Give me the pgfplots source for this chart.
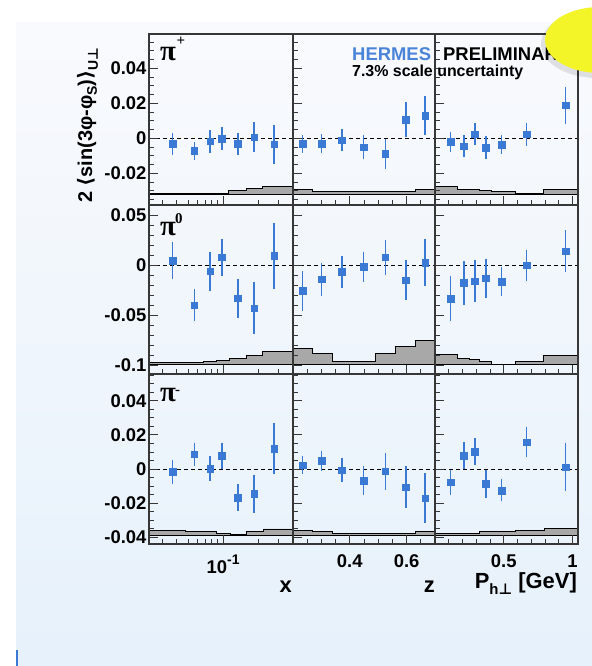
\documentclass[border=0pt]{standalone}
\usepackage{fontspec}
\setmainfont{Liberation Sans}
\newfontfamily\djv{DejaVu Sans}
\newfontfamily\lser{Liberation Serif}
\usepackage{pgfplots}
\pgfplotsset{compat=1.18}
\definecolor{hblue}{RGB}{58,122,212}
\definecolor{hblue2}{RGB}{74,132,216}
\definecolor{bandgray}{RGB}{168,168,168}
\definecolor{framec}{RGB}{55,55,55}
\definecolor{bgtop}{RGB}{249,250,253}
\definecolor{bgbot}{RGB}{230,241,251}
\definecolor{blob}{RGB}{243,245,40}

\pgfplotsset{
  panel/.style={
    scale only axis, axis on top,
    scaled x ticks=false, scaled y ticks=false,
    axis line style={draw=framec, line width=1.1bp},
    tick align=inside,
    xtick pos=left, ytick pos=left,
    major tick length=9bp, minor tick length=5bp,
    tick style={draw=framec, line width=0.9bp},
    tick label style={font=\bfseries\fontsize{18.5}{18.5}\selectfont},
    xticklabel style={yshift=-7bp},
    yticklabel style={xshift=1bp},
    /pgf/number format/assume math mode=true,
    xticklabels={}, yticklabels={},
    anchor=north west,
  },
  rowtop/.style={ymin=-0.0381, ymax=0.0596, height=171bp,
    ytick={-0.02,0,0.02,0.04},
    minor ytick={-0.035,-0.03,-0.025,-0.015,-0.01,-0.005,0.005,0.01,0.015,0.025,0.03,0.035,0.045,0.05,0.055}},
  rowtoplab/.style={yticklabels={-0.02,0,0.02,0.04}},
  rowmid/.style={ymin=-0.109, ymax=0.06, height=169bp,
    ytick={-0.1,-0.05,0,0.05},
    minor ytick={-0.09,-0.08,-0.07,-0.06,-0.04,-0.03,-0.02,-0.01,0.01,0.02,0.03,0.04}},
  rowmidlab/.style={yticklabels={-0.1,-0.05,0,0.05}},
  rowbot/.style={ymin=-0.0439, ymax=0.0557, height=170bp,
    ytick={-0.04,-0.02,0,0.02,0.04},
    minor ytick={-0.035,-0.03,-0.025,-0.015,-0.01,-0.005,0.005,0.01,0.015,0.025,0.03,0.035,0.045,0.05,0.055}},
  rowbotlab/.style={yticklabels={-0.04,-0.02,0,0.02,0.04}},
  colx/.style={xmin=0.023, xmax=0.4, width=144bp,
    xtick={0.1}, minor xtick={0.03,0.04,0.05,0.06,0.07,0.08,0.09,0.2,0.3}},
  colz/.style={xmin=0.2, xmax=0.7, width=142bp,
    xtick={0.4,0.6}, minor xtick={0.25,0.3,0.35,0.45,0.5,0.55,0.65}},
  colp/.style={xmin=0, xmax=1.04, width=143bp,
    xtick={0.5,1}, minor xtick={0.1,0.2,0.3,0.4,0.6,0.7,0.8,0.9}},
  datapts/.style={hblue, only marks, mark=square*, mark size=3.3bp,
    mark options={fill=hblue, draw=hblue, line width=0.3bp},
    error bars/.cd, y dir=both, y explicit, error mark=none,
    error bar style={line width=1.5bp, hblue}},
  band/.style={fill=bandgray, draw=black, line width=0.9bp},
  zeroline/.style={black, dash pattern=on 4bp off 3bp, line width=0.9bp},
}

\begin{document}
\begin{tikzpicture}
\useasboundingbox (0,0) rectangle (592bp,-666bp);
\fill[white] (0,0) rectangle (592bp,-666bp);
\shade[top color=bgtop, bottom color=bgbot] (16bp,-22bp) rectangle (592bp,-666bp);
\fill[hblue] (16bp,-650bp) rectangle (18bp,-666bp);

% ---------------- top row: pi+ ----------------
\begin{semilogxaxis}[panel, rowtop, rowtoplab, colx, at={(149bp,-34bp)}]
\addplot[band] coordinates {(0.023,-0.0322) (0.023,-0.0317) (0.111,-0.0317) (0.111,-0.0297) (0.158,-0.0297) (0.158,-0.0288) (0.22,-0.0288) (0.22,-0.0273) (0.4,-0.0273) (0.4,-0.0322)} -- cycle;
\addplot[zeroline] coordinates {(0.023,0) (0.4,0)};
\addplot[datapts] coordinates {
(0.0366,-0.0032) +- (0,0.0062)
(0.0565,-0.0072) +- (0,0.0052)
(0.0773,-0.0017) +- (0,0.0065)
(0.0975,-0.0002) +- (0,0.0067)
(0.134,-0.0032) +- (0,0.0063)
(0.185,0.0006) +- (0,0.0087)
(0.275,-0.0034) +- (0,0.0112)};
\end{semilogxaxis}
\begin{axis}[panel, rowtop, colz, at={(293bp,-34bp)}]
\addplot[band] coordinates {(0.2,-0.0322) (0.2,-0.0295) (0.268,-0.0295) (0.268,-0.0305) (0.63,-0.0305) (0.63,-0.0295) (0.7,-0.0295) (0.7,-0.0322)} -- cycle;
\addplot[zeroline] coordinates {(0.2,0) (0.7,0)};
\addplot[datapts] coordinates {
(0.233,-0.0032) +- (0,0.0050)
(0.301,-0.0029) +- (0,0.0054)
(0.372,-0.0010) +- (0,0.0062)
(0.448,-0.0050) +- (0,0.0070)
(0.525,-0.0088) +- (0,0.0086)
(0.597,0.0105) +- (0,0.0100)
(0.665,0.0130) +- (0,0.0110)};
\end{axis}
\begin{axis}[panel, rowtop, colp, at={(435bp,-34bp)}]
\addplot[band] coordinates {(0,-0.0322) (0,-0.0273) (0.166,-0.0273) (0.166,-0.0292) (0.326,-0.0292) (0.326,-0.0299) (0.412,-0.0299) (0.412,-0.0305) (0.583,-0.0305) (0.583,-0.0317) (0.791,-0.0317) (0.791,-0.0292) (1.04,-0.0292) (1.04,-0.0322)} -- cycle;
\addplot[zeroline] coordinates {(0,0) (1.04,0)};
\addplot[datapts] coordinates {
(0.114,-0.0019) +- (0,0.0057)
(0.21,-0.0044) +- (0,0.0065)
(0.29,0.0023) +- (0,0.0064)
(0.37,-0.0053) +- (0,0.0065)
(0.485,-0.0036) +- (0,0.0054)
(0.667,0.0023) +- (0,0.0065)
(0.95,0.0189) +- (0,0.0105)};
\end{axis}

% ---------------- middle row: pi0 ----------------
\begin{semilogxaxis}[panel, rowmid, rowmidlab, colx, at={(149bp,-205bp)}]
\addplot[band] coordinates {(0.023,-0.0995) (0.023,-0.0975) (0.0676,-0.0975) (0.0676,-0.0965) (0.087,-0.0965) (0.087,-0.095) (0.113,-0.095) (0.113,-0.0935) (0.16,-0.0935) (0.16,-0.0905) (0.22,-0.0905) (0.22,-0.086) (0.4,-0.086) (0.4,-0.0995)} -- cycle;
\addplot[zeroline] coordinates {(0.023,0) (0.4,0)};
\addplot[datapts] coordinates {
(0.0366,0.0043) +- (0,0.0183)
(0.0565,-0.0403) +- (0,0.0160)
(0.0773,-0.0063) +- (0,0.0195)
(0.0975,0.0077) +- (0,0.0187)
(0.134,-0.0333) +- (0,0.0195)
(0.185,-0.0433) +- (0,0.0260)
(0.275,0.0093) +- (0,0.0330)};
\end{semilogxaxis}
\begin{axis}[panel, rowmid, colz, at={(293bp,-205bp)}]
\addplot[band] coordinates {(0.2,-0.0995) (0.2,-0.0833) (0.268,-0.0833) (0.268,-0.0885) (0.34,-0.0885) (0.34,-0.0962) (0.489,-0.0962) (0.489,-0.0885) (0.56,-0.0885) (0.56,-0.0817) (0.63,-0.0817) (0.63,-0.0757) (0.7,-0.0757) (0.7,-0.0995)} -- cycle;
\addplot[zeroline] coordinates {(0.2,0) (0.7,0)};
\addplot[datapts] coordinates {
(0.233,-0.0257) +- (0,0.0202)
(0.301,-0.0143) +- (0,0.0167)
(0.372,-0.0067) +- (0,0.0158)
(0.448,-0.0017) +- (0,0.0150)
(0.525,0.0077) +- (0,0.0172)
(0.597,-0.0153) +- (0,0.0200)
(0.665,0.0023) +- (0,0.0233)};
\end{axis}
\begin{axis}[panel, rowmid, colp, at={(435bp,-205bp)}]
\addplot[band] coordinates {(0,-0.0995) (0,-0.0898) (0.166,-0.0898) (0.166,-0.0932) (0.252,-0.0932) (0.252,-0.0948) (0.326,-0.0948) (0.326,-0.0965) (0.412,-0.0965) (0.412,-0.099) (0.583,-0.099) (0.583,-0.0965) (0.791,-0.0965) (0.791,-0.0903) (1.04,-0.0903) (1.04,-0.0995)} -- cycle;
\addplot[zeroline] coordinates {(0,0) (1.04,0)};
\addplot[datapts] coordinates {
(0.114,-0.0337) +- (0,0.0225)
(0.21,-0.0177) +- (0,0.0220)
(0.29,-0.0160) +- (0,0.0208)
(0.37,-0.0133) +- (0,0.0195)
(0.485,-0.0167) +- (0,0.0145)
(0.667,-0.0003) +- (0,0.0157)
(0.95,0.0140) +- (0,0.0213)};
\end{axis}

% ---------------- bottom row: pi- ----------------
\begin{semilogxaxis}[panel, rowbot, rowbotlab, colx, at={(149bp,-374bp)},
  xticklabels={10\raisebox{0.5em}{\fontsize{14}{14}\selectfont -1}}]
\addplot[band] coordinates {(0.023,-0.0387) (0.023,-0.0357) (0.047,-0.0357) (0.047,-0.0367) (0.0883,-0.0367) (0.0883,-0.0377) (0.115,-0.0377) (0.115,-0.0385) (0.16,-0.0385) (0.16,-0.0367) (0.222,-0.0367) (0.222,-0.0351) (0.4,-0.0351) (0.4,-0.0387)} -- cycle;
\addplot[zeroline] coordinates {(0.023,0) (0.4,0)};
\addplot[datapts] coordinates {
(0.0366,-0.0016) +- (0,0.0072)
(0.0565,0.0087) +- (0,0.0068)
(0.0773,0.0004) +- (0,0.0074)
(0.0975,0.0079) +- (0,0.0076)
(0.134,-0.0168) +- (0,0.0080)
(0.185,-0.0145) +- (0,0.0110)
(0.275,0.0119) +- (0,0.0150)};
\end{semilogxaxis}
\begin{axis}[panel, rowbot, colz, at={(293bp,-374bp)}, xticklabels={0.4,0.6}]
\addplot[band] coordinates {(0.2,-0.0387) (0.2,-0.0357) (0.268,-0.0357) (0.268,-0.0367) (0.34,-0.0367) (0.34,-0.0379) (0.63,-0.0379) (0.63,-0.0367) (0.7,-0.0367) (0.7,-0.0387)} -- cycle;
\addplot[zeroline] coordinates {(0.2,0) (0.7,0)};
\addplot[datapts] coordinates {
(0.233,0.0024) +- (0,0.0054)
(0.301,0.0048) +- (0,0.0060)
(0.372,-0.0006) +- (0,0.0072)
(0.448,-0.0067) +- (0,0.0086)
(0.525,-0.0012) +- (0,0.0108)
(0.597,-0.0105) +- (0,0.0124)
(0.665,-0.0170) +- (0,0.0147)};
\end{axis}
\begin{axis}[panel, rowbot, colp, at={(435bp,-374bp)}, xticklabels={0.5,1}]
\addplot[band] coordinates {(0,-0.0387) (0,-0.0379) (0.326,-0.0379) (0.326,-0.0367) (0.583,-0.0367) (0.583,-0.0357) (0.796,-0.0357) (0.796,-0.0347) (1.04,-0.0347) (1.04,-0.0387)} -- cycle;
\addplot[zeroline] coordinates {(0,0) (1.04,0)};
\addplot[datapts] coordinates {
(0.114,-0.0077) +- (0,0.0074)
(0.21,0.0079) +- (0,0.0080)
(0.29,0.0103) +- (0,0.0081)
(0.37,-0.0087) +- (0,0.0082)
(0.485,-0.0125) +- (0,0.0064)
(0.667,0.0158) +- (0,0.0088)
(0.95,0.0012) +- (0,0.0139)};
\end{axis}

% ---------------- labels ----------------
\node[anchor=base west, inner sep=0] at (160bp,-60bp) {\lser\bfseries\fontsize{29}{29}\selectfont π\kern0.5bp\raisebox{15bp}{\fontsize{15}{15}\selectfont +}};
\node[anchor=base west, inner sep=0] at (160bp,-235bp) {\lser\bfseries\fontsize{29}{29}\selectfont π\kern-1bp\raisebox{12bp}{\fontsize{15}{15}\selectfont 0}};
\node[anchor=base west, inner sep=0] at (160bp,-401bp) {\lser\bfseries\fontsize{29}{29}\selectfont π\kern-1bp\raisebox{7bp}{\fontsize{15}{15}\selectfont -}};

\node[anchor=base west, inner sep=0, rotate=90] at (92bp,-203bp) {\bfseries\fontsize{20}{20}\selectfont 2 {\djv ⟨}sin(3φ-φ\raisebox{-0.25em}{\fontsize{14}{14}\selectfont S}){\djv ⟩}\raisebox{-0.3em}{\fontsize{14}{14}\selectfont U{\djv ⊥}}};

\node[anchor=base west, inner sep=0] at (352bp,-60bp) {\color{hblue2}\bfseries\fontsize{18.5}{18.5}\selectfont HERMES};
\node[anchor=base west, inner sep=0] at (443bp,-60bp) {\bfseries\fontsize{18.5}{18.5}\selectfont PRELIMINARY};
\node[anchor=base west, inner sep=0] at (352bp,-76bp) {\bfseries\fontsize{16}{16}\selectfont 7.3\% scale uncertainty};

\node[anchor=base east, inner sep=0] at (292bp,-592bp) {\bfseries\fontsize{22}{22}\selectfont x};
\node[anchor=base east, inner sep=0] at (435bp,-592bp) {\bfseries\fontsize{22}{22}\selectfont z};
\node[anchor=base east, inner sep=0] at (577bp,-588bp) {\bfseries\fontsize{22}{22}\selectfont P\raisebox{-0.3em}{\fontsize{15}{15}\selectfont h{\djv ⊥}} [GeV]};

% decorative yellow blob
\fill[black, opacity=0.10] (597bp,-44bp) ellipse [x radius=56bp, y radius=34bp];
\fill[blob] (600bp,-40bp) ellipse [x radius=55bp, y radius=33bp];
\end{tikzpicture}
\end{document}
